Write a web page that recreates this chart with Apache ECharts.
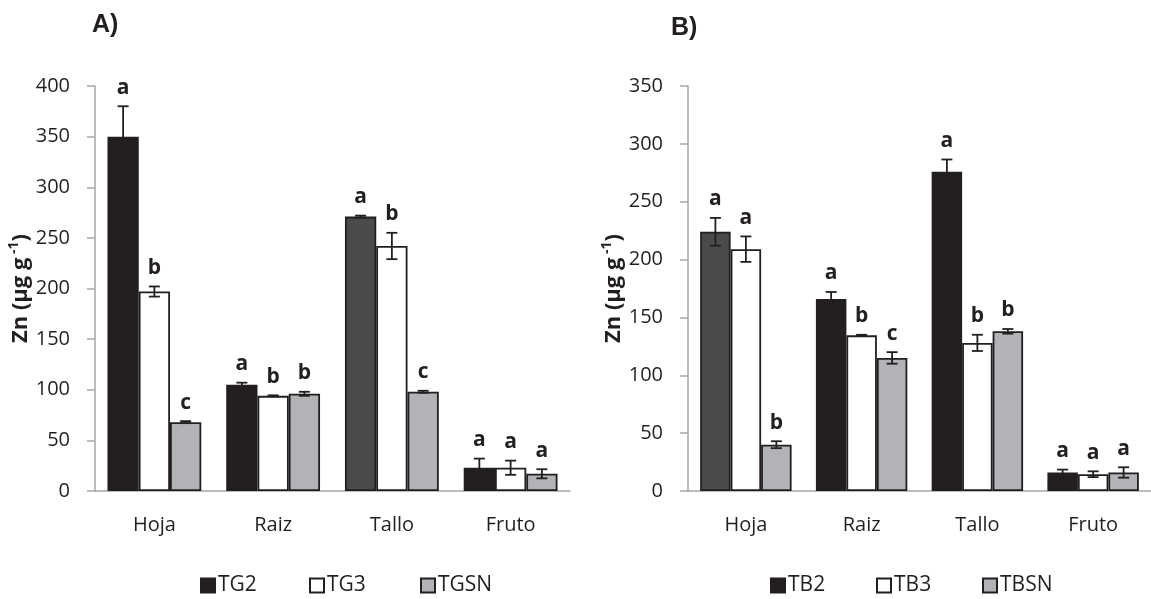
<!DOCTYPE html>
<html>
<head>
<meta charset="utf-8">
<script src="https://cdn.jsdelivr.net/npm/echarts@6/dist/echarts.min.js"></script>
<style>
  html, body { margin: 0; padding: 0; background: #ffffff; }
  #chart { width: 1151px; height: 599px; }
</style>
</head>
<body>
<div id="chart"></div>
<script>
// Zn concentration by plant organ, two treatment sets
const categories = ['Hoja', 'Raiz', 'Tallo', 'Fruto'];
const yTicksA = [0, 400, 50];   // min, max, step
const yTicksB = [0, 350, 50];

// Panel A treatments
const namesA = ['TG2', 'TG3', 'TGSN'];
const tg2 = [350, 105, 271, 23];
const tg2Err = [30, 2, 1, 9];
const tg2Let = ['a', 'a', 'a', 'a'];
const tg3 = [197, 94, 242, 23];
const tg3Err = [5, 0.5, 13, 7];
const tg3Let = ['b', 'b', 'b', 'a'];
const tgsn = [68, 96, 98, 17];
const tgsnErr = [1, 2, 1, 4.5];
const tgsnLet = ['c', 'b', 'c', 'a'];

// Panel B treatments
const namesB = ['TB2', 'TB3', 'TBSN'];
const tb2 = [224, 166, 276, 16];
const tb2Err = [12, 6, 10.5, 2.5];
const tb2Let = ['a', 'a', 'a', 'a'];
const tb3 = [209, 134.5, 128, 14.5];
const tb3Err = [11, 0.5, 7, 2.5];
const tb3Let = ['a', 'b', 'b', 'a'];
const tbsn = [40, 115, 138, 16];
const tbsnErr = [3, 5, 2, 4.5];
const tbsnLet = ['b', 'c', 'b', 'a'];

const INK = '#231f20';
const DARK_GREY = '#4a4b4d';
const FILLS = [INK, '#ffffff', '#b1b3b6'];
const AXIS_GREY = '#a6a6a6';
const FONT = '"Open Sans", "Noto Sans", sans-serif';
const CAT_GAP = 0.21;

function barSeries(name, values, fillIdx, axisIdx, darkAt) {
  return {
    type: 'bar',
    name: name,
    xAxisIndex: axisIdx,
    yAxisIndex: axisIdx,
    barGap: '0%',
    barCategoryGap: (CAT_GAP * 100) + '%',
    itemStyle: { color: FILLS[fillIdx], borderColor: INK, borderWidth: 1.8 },
    data: values.map(function (v, i) {
      return i === darkAt ? { value: v, itemStyle: { color: DARK_GREY } } : v;
    }),
    z: 2
  };
}

// Error whiskers plus the significance letter above each bar
function errorSeries(values, errs, letters, slot, axisIdx) {
  return {
    type: 'custom',
    xAxisIndex: axisIdx,
    yAxisIndex: axisIdx,
    z: 5,
    silent: true,
    data: values.map(function (v, i) { return [i, v, errs[i]]; }),
    renderItem: function (params, api) {
      const cat = api.value(0), mean = api.value(1), err = api.value(2);
      const base = api.coord([cat, 0]);
      const band = api.size([1, 0])[0];
      const bw = band * (1 - CAT_GAP) / 3;
      const x = base[0] + (slot - 1) * bw;
      const yTop = api.coord([cat, mean + err])[1];
      const yBot = api.coord([cat, mean - err])[1];
      const cap = 5.5;
      const st = { stroke: INK, lineWidth: 1.8 };
      return {
        type: 'group',
        children: [
          { type: 'line', shape: { x1: x, y1: yTop, x2: x, y2: yBot }, style: st },
          { type: 'line', shape: { x1: x - cap, y1: yTop, x2: x + cap, y2: yTop }, style: st },
          { type: 'line', shape: { x1: x - cap, y1: yBot, x2: x + cap, y2: yBot }, style: st },
          {
            type: 'text',
            style: {
              text: letters[params.dataIndex],
              x: x, y: yTop - 8,
              align: 'center', verticalAlign: 'bottom',
              font: 'bold 21px ' + FONT,
              fill: INK
            }
          }
        ]
      };
    }
  };
}

function xAxis(idx) {
  return {
    type: 'category',
    gridIndex: idx,
    data: categories,
    axisLine: { lineStyle: { color: AXIS_GREY, width: 1.5 } },
    axisTick: { show: false },
    axisLabel: { color: INK, fontSize: 20, fontFamily: FONT, margin: 24 }
  };
}

function yAxis(idx, ticks) {
  return {
    type: 'value',
    gridIndex: idx,
    min: ticks[0], max: ticks[1], interval: ticks[2],
    splitLine: { show: false },
    axisLine: { show: true, lineStyle: { color: AXIS_GREY, width: 1.5 } },
    axisTick: { show: true, length: 8, lineStyle: { color: AXIS_GREY, width: 1.5 } },
    axisLabel: { color: INK, fontSize: 20, fontFamily: FONT, margin: 25 },
    name: '{b|Zn (µg g}{s| -1}{b|)}',
    nameLocation: 'middle',
    nameRotate: 90,
    nameGap: 60,
    nameTextStyle: {
      rich: {
        b: { fontSize: 22, fontWeight: 'bold', fontFamily: FONT, color: INK, lineHeight: 28 },
        s: { fontSize: 14, fontWeight: 'bold', fontFamily: FONT, color: INK, lineHeight: 28, verticalAlign: 'top' }
      }
    }
  };
}

function legendItem(name, left) {
  return {
    data: [name],
    left: left,
    top: 570,
    icon: 'rect',
    itemWidth: 14,
    itemHeight: 14,
    itemGap: 6,
    textStyle: { color: INK, fontSize: 21, fontFamily: FONT, padding: [0, 0, 0, -2] },
    selectedMode: false
  };
}

const chart = echarts.init(document.getElementById('chart'), null, { renderer: 'canvas' });

chart.setOption({
  animation: false,
  backgroundColor: '#ffffff',
  grid: [
    { left: 95, right: 581, top: 86, bottom: 108 },
    { left: 688, right: -9, top: 86, bottom: 108 }
  ],
  xAxis: [xAxis(0), xAxis(1)],
  yAxis: [yAxis(0, yTicksA), yAxis(1, yTicksB)],
  legend: [
    legendItem(namesA[0], 195),
    legendItem(namesA[1], 304),
    legendItem(namesA[2], 415),
    legendItem(namesB[0], 765),
    legendItem(namesB[1], 871),
    legendItem(namesB[2], 977)
  ],
  graphic: [
    { type: 'text', left: 92, top: 13, style: { text: 'A)', font: 'bold 25px "Liberation Sans", Arial, sans-serif', fill: INK } },
    { type: 'text', left: 671, top: 16, style: { text: 'B)', font: 'bold 25px "Liberation Sans", Arial, sans-serif', fill: INK } }
  ],
  series: [
    barSeries(namesA[0], tg2, 0, 0, 2),
    barSeries(namesA[1], tg3, 1, 0, -1),
    barSeries(namesA[2], tgsn, 2, 0, -1),
    barSeries(namesB[0], tb2, 0, 1, 0),
    barSeries(namesB[1], tb3, 1, 1, -1),
    barSeries(namesB[2], tbsn, 2, 1, -1),
    errorSeries(tg2, tg2Err, tg2Let, 0, 0),
    errorSeries(tg3, tg3Err, tg3Let, 1, 0),
    errorSeries(tgsn, tgsnErr, tgsnLet, 2, 0),
    errorSeries(tb2, tb2Err, tb2Let, 0, 1),
    errorSeries(tb3, tb3Err, tb3Let, 1, 1),
    errorSeries(tbsn, tbsnErr, tbsnLet, 2, 1)
  ]
});
</script>
</body>
</html>
